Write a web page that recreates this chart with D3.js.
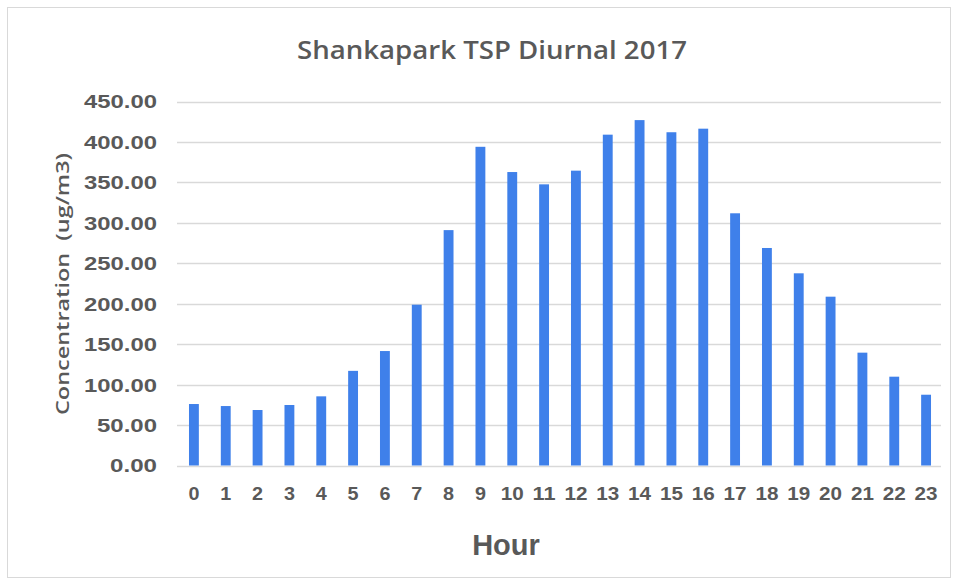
<!DOCTYPE html>
<html>
<head>
<meta charset="utf-8">
<script src="https://cdn.jsdelivr.net/npm/d3@7/dist/d3.min.js"></script>
<style>
  html, body { margin: 0; padding: 0; background: #fff; }
  svg { display: block; }
</style>
</head>
<body>
<svg id="chart" width="959" height="580"></svg>
<script>
const hours = ["0","1","2","3","4","5","6","7","8","9","10","11","12","13","14","15","16","17","18","19","20","21","22","23"];
const concentration = [76, 73.5, 68.6, 74.8, 85.5, 117, 141.5, 198.8, 291, 394, 362.8, 347.6, 364.5, 409, 427, 412, 416.4, 311.8, 268.9, 237.6, 208.7, 139.5, 109.8, 87.5];
const yTicks = [0, 50, 100, 150, 200, 250, 300, 350, 400, 450];
const titleText = "Shankapark TSP Diurnal 2017";
const xTitle = "Hour";
const yTitle = "Concentration  (ug/m3)";

const svg = d3.select("#chart");
const grey = "#595959";

// outer border
svg.append("rect")
  .attr("x", 7.5).attr("y", 7.5)
  .attr("width", 943).attr("height", 570)
  .attr("fill", "#fff")
  .attr("stroke", "#d9d9d9").attr("stroke-width", 1);

const x = d3.scaleBand()
  .domain(hours)
  .range([178, 942])
  .paddingInner(0.69)
  .paddingOuter(0.345);

const y = d3.scaleLinear()
  .domain([0, 450])
  .range([465.5, 101.5]);

// gridlines
svg.append("g")
  .selectAll("line")
  .data(yTicks)
  .join("line")
  .attr("x1", 177).attr("x2", 941)
  .attr("y1", d => Math.round(y(d)) + 0.5)
  .attr("y2", d => Math.round(y(d)) + 0.5)
  .attr("stroke", "#d9d9d9")
  .attr("stroke-width", 1.3);

// bars
svg.append("g")
  .selectAll("rect")
  .data(concentration)
  .join("rect")
  .attr("x", (d, i) => x(hours[i]))
  .attr("width", x.bandwidth())
  .attr("y", d => y(d))
  .attr("height", d => y(0) - y(d))
  .attr("fill", "#3f80ea");

// y axis labels
const yAxis = d3.axisLeft(y)
  .tickValues(yTicks)
  .tickFormat(d3.format(".2f"))
  .tickSize(0)
  .tickPadding(0);
const gy = svg.append("g")
  .attr("transform", "translate(157,0)")
  .call(yAxis);
gy.select(".domain").remove();
gy.selectAll("text")
  .attr("fill", grey)
  .attr("font-family", "Liberation Sans, Arial, sans-serif")
  .attr("font-weight", "bold")
  .attr("font-size", 18)
  .attr("dy", "0.36em")
  .attr("textLength", function(d) { return d >= 100 ? 73 : (d >= 10 ? 60 : 47); })
  .attr("lengthAdjust", "spacingAndGlyphs");

// x axis labels
const xAxis = d3.axisBottom(x).tickSize(0).tickPadding(0);
const gx = svg.append("g")
  .attr("transform", "translate(0,481)")
  .call(xAxis);
gx.select(".domain").remove();
gx.selectAll("text")
  .attr("fill", grey)
  .attr("font-family", "Liberation Sans, Arial, sans-serif")
  .attr("font-weight", "bold")
  .attr("font-size", 19)
  .attr("dy", "0.99em")
  .attr("textLength", function(d) { return d.length > 1 ? 23 : 11; })
  .attr("lengthAdjust", "spacingAndGlyphs");

// title
svg.append("text")
  .attr("x", 492).attr("y", 59)
  .attr("text-anchor", "middle")
  .attr("fill", grey)
  .attr("font-family", "Open Sans, sans-serif")
  .attr("font-weight", 600)
  .attr("font-size", 25)
  .attr("textLength", 390)
  .attr("lengthAdjust", "spacingAndGlyphs")
  .text(titleText);

// x title
svg.append("text")
  .attr("x", 506).attr("y", 555)
  .attr("text-anchor", "middle")
  .attr("fill", grey)
  .attr("font-family", "Liberation Sans, Arial, sans-serif")
  .attr("font-weight", "bold")
  .attr("font-size", 29)
  .text(xTitle);

// y title
svg.append("text")
  .attr("transform", "translate(69,284) rotate(-90)")
  .attr("text-anchor", "middle")
  .attr("fill", grey)
  .attr("font-family", "Open Sans, sans-serif")
  .attr("font-weight", 600)
  .attr("font-size", 18)
  .attr("textLength", 262)
  .attr("lengthAdjust", "spacingAndGlyphs")
  .attr("xml:space", "preserve")
  .style("white-space", "pre")
  .text(yTitle);
</script>
</body>
</html>
